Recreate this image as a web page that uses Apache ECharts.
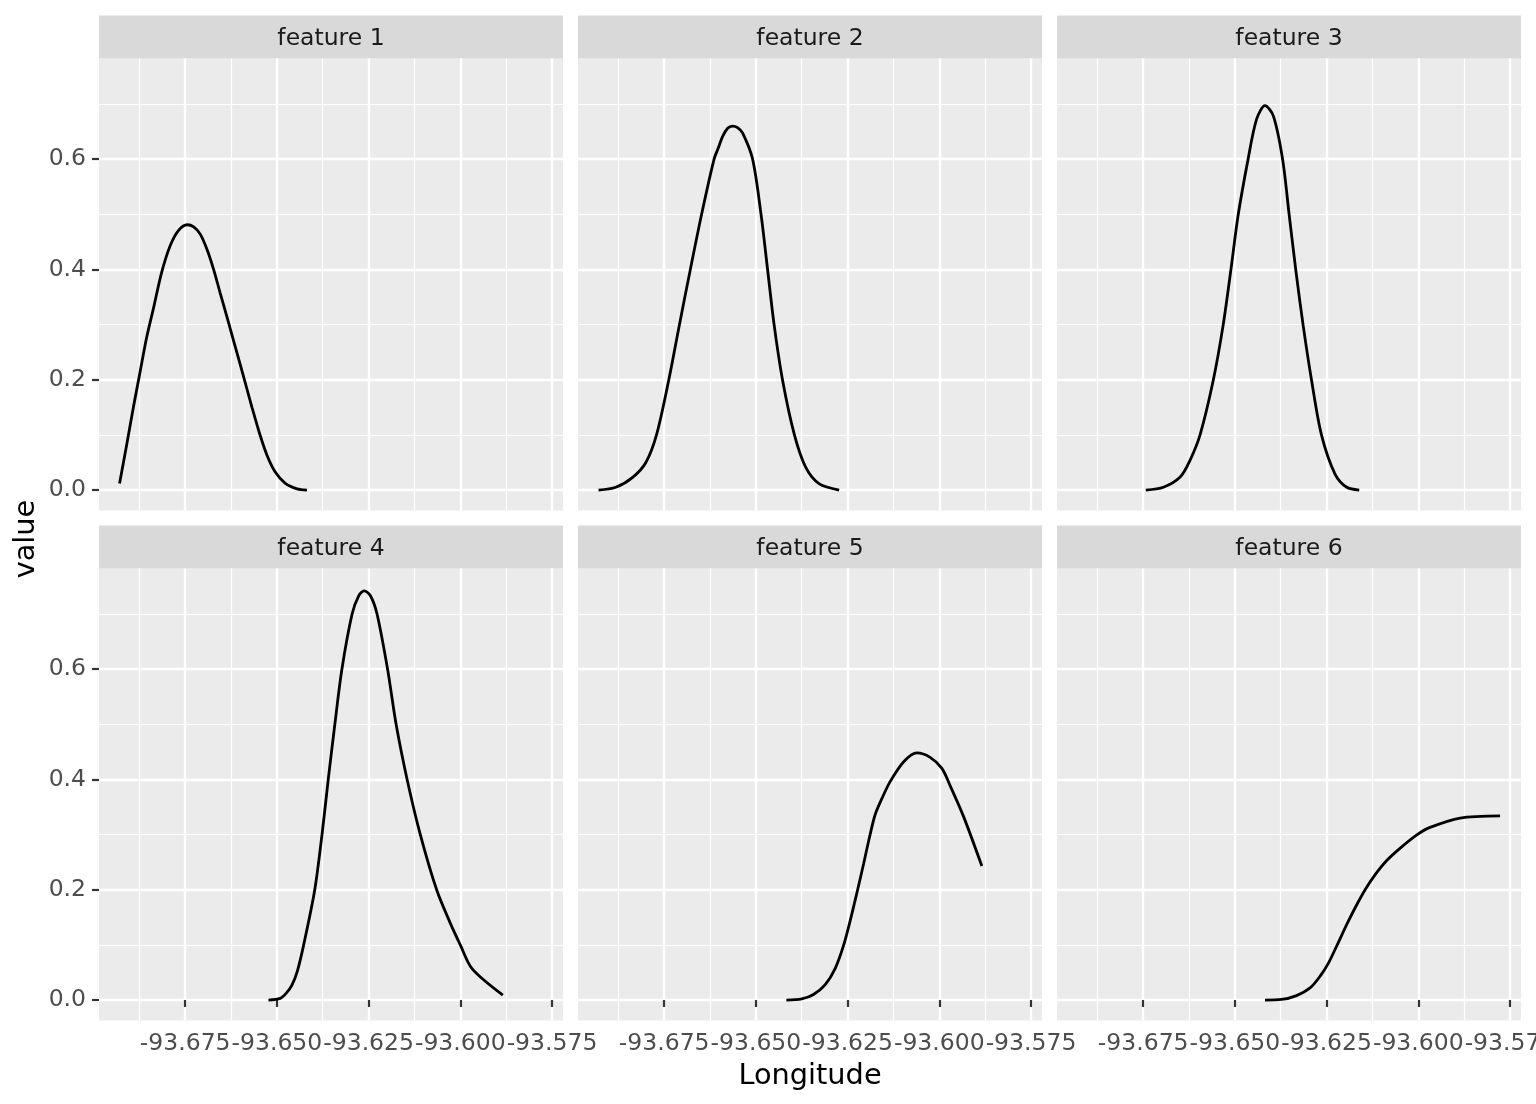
<!DOCTYPE html>
<html>
<head>
    <meta charset="UTF-8">
    <title>Longitude features</title>
    <script src="https://cdn.jsdelivr.net/npm/echarts@6/dist/echarts.min.js"></script>
    <style>
        html, body { margin: 0; padding: 0; background: #fff; }
        #chart { width: 1536px; height: 1104px; }
    </style>
</head>
<body>
    <div id="chart"></div>
    <script>
        // facet names
        const features = ['feature 1', 'feature 2', 'feature 3', 'feature 4', 'feature 5', 'feature 6'];

        // tick positions
        const xMajor = [-93.675, -93.65, -93.625, -93.6, -93.575];
        const xMinor = [-93.6875, -93.6625, -93.6375, -93.6125, -93.5875];
        const yMajor = [0, 0.2, 0.4, 0.6];
        const yMinor = [0.1, 0.3, 0.5, 0.7];

        // curves
        const f1Lon = [-93.6929, -93.6909, -93.6891, -93.6873, -93.6855, -93.6836, -93.6814, -93.6791, -93.6768, -93.6744, -93.6727, -93.6709, -93.6691, -93.6673, -93.6655, -93.6632, -93.6609, -93.6589, -93.6568, -93.6547, -93.6527, -93.6505, -93.6477, -93.6445, -93.6418];
        const f1Val = [0.012, 0.084, 0.151, 0.214, 0.277, 0.331, 0.395, 0.443, 0.471, 0.481, 0.477, 0.464, 0.437, 0.401, 0.358, 0.304, 0.249, 0.201, 0.150, 0.102, 0.063, 0.033, 0.012, 0.002, 0.000];

        const f2Lon = [-93.6929, -93.6882, -93.6836, -93.6800, -93.6771, -93.6738, -93.6709, -93.6679, -93.6648, -93.6614, -93.6602, -93.6591, -93.6577, -93.6564, -93.6550, -93.6536, -93.6509, -93.6486, -93.6468, -93.6450, -93.6427, -93.6395, -93.6364, -93.6327, -93.6273];
        const f2Val = [0.000, 0.005, 0.023, 0.050, 0.100, 0.198, 0.298, 0.399, 0.500, 0.600, 0.621, 0.641, 0.656, 0.660, 0.657, 0.647, 0.600, 0.500, 0.399, 0.298, 0.198, 0.100, 0.041, 0.011, 0.000];

        const f3Lon = [-93.6743, -93.6695, -93.6650, -93.6623, -93.6595, -93.6559, -93.6532, -93.6511, -93.6491, -93.6464, -93.6441, -93.6418, -93.6395, -93.6370, -93.6352, -93.6334, -93.6314, -93.6291, -93.6264, -93.6227, -93.6195, -93.6161];
        const f3Val = [0.000, 0.005, 0.023, 0.053, 0.100, 0.199, 0.299, 0.399, 0.499, 0.600, 0.672, 0.697, 0.678, 0.600, 0.499, 0.399, 0.299, 0.199, 0.100, 0.029, 0.005, 0.000];

        const f4Lon = [-93.6523, -93.6491, -93.6475, -93.6459, -93.6444, -93.6427, -93.6397, -93.6377, -93.6360, -93.6342, -93.6323, -93.6295, -93.6277, -93.6262, -93.6245, -93.6227, -93.6198, -93.6175, -93.6145, -93.6109, -93.6064, -93.6027, -93.6000, -93.5968, -93.5884];
        const f4Val = [0.000, 0.003, 0.012, 0.027, 0.053, 0.100, 0.199, 0.300, 0.400, 0.500, 0.599, 0.700, 0.733, 0.742, 0.733, 0.700, 0.599, 0.500, 0.400, 0.300, 0.199, 0.139, 0.100, 0.057, 0.009];

        const f5Lon = [-93.6417, -93.6375, -93.6343, -93.6311, -93.6284, -93.6261, -93.6241, -93.6223, -93.6206, -93.6190, -93.6175, -93.6156, -93.6134, -93.6097, -93.6061, -93.6025, -93.5993, -93.5970, -93.5934, -93.5884];
        const f5Val = [0.000, 0.002, 0.010, 0.028, 0.057, 0.099, 0.149, 0.199, 0.248, 0.296, 0.336, 0.366, 0.396, 0.432, 0.448, 0.440, 0.420, 0.388, 0.333, 0.243];

        const f6Lon = [-93.6418, -93.6373, -93.6332, -93.6295, -93.6268, -93.6245, -93.6221, -93.6195, -93.6170, -93.6145, -93.6118, -93.6086, -93.6050, -93.6005, -93.5968, -93.5886, -93.5777];
        const f6Val = [0.000, 0.001, 0.008, 0.022, 0.043, 0.067, 0.100, 0.137, 0.170, 0.200, 0.227, 0.253, 0.275, 0.299, 0.313, 0.330, 0.334];

        const lons = [f1Lon, f2Lon, f3Lon, f4Lon, f5Lon, f6Lon];
        const vals = [f1Val, f2Val, f3Val, f4Val, f5Val, f6Val];

        const FONT = 'DejaVu Sans';
        const X_MIN = -93.6985, X_MAX = -93.5720;
        const Y_MIN = -0.0373, Y_MAX = 0.7823;
        const lefts = [99, 578, 1057];
        const tops = [58.6, 568.6];
        const W = 464, H = 452, STRIP = 43;

        const grids = [], xAxes = [], yAxes = [], series = [], graphics = [];

        features.forEach((name, i) => {
            const col = i % 3, row = Math.floor(i / 3);
            grids.push({
                left: lefts[col], top: tops[row], width: W, height: H,
                outerBoundsMode: 'none', containLabel: false,
                show: true, backgroundColor: '#EBEBEB', borderWidth: 0
            });
            // major x
            xAxes.push({
                type: 'value', gridIndex: i, min: X_MIN, max: X_MAX,
                axisLine: { show: false },
                axisTick: { show: row === 1, length: 7, customValues: xMajor, lineStyle: { color: '#333333', width: 2.2 } },
                axisLabel: { show: row === 1, customValues: xMajor, formatter: v => v.toFixed(3),
                    hideOverlap: false, showMinLabel: true, showMaxLabel: true,
                    color: '#4D4D4D', fontSize: 23.5, fontFamily: FONT, margin: 11 },
                splitLine: { show: true, lineStyle: { color: '#FFFFFF', width: 2.4 } }
            });
            // minor x
            xAxes.push({
                type: 'value', gridIndex: i, min: X_MIN, max: X_MAX,
                axisLine: { show: false },
                axisTick: { show: false, customValues: xMinor },
                axisLabel: { show: false, customValues: xMinor },
                splitLine: { show: true, lineStyle: { color: '#FFFFFF', width: 1.2 } }
            });
            yAxes.push({
                type: 'value', gridIndex: i, min: Y_MIN, max: Y_MAX,
                axisLine: { show: false },
                axisTick: { show: col === 0, length: 7, customValues: yMajor, lineStyle: { color: '#333333', width: 2.2 } },
                axisLabel: { show: col === 0, customValues: yMajor, formatter: v => v.toFixed(1),
                    showMinLabel: true, showMaxLabel: true,
                    color: '#4D4D4D', fontSize: 23.5, fontFamily: FONT, margin: 13 },
                splitLine: { show: true, lineStyle: { color: '#FFFFFF', width: 2.4 } }
            });
            yAxes.push({
                type: 'value', gridIndex: i, min: Y_MIN, max: Y_MAX,
                axisLine: { show: false },
                axisTick: { show: false, customValues: yMinor },
                axisLabel: { show: false, customValues: yMinor },
                splitLine: { show: true, lineStyle: { color: '#FFFFFF', width: 1.2 } }
            });
            series.push({
                type: 'line', name: name,
                xAxisIndex: 2 * i, yAxisIndex: 2 * i,
                data: lons[i].map((x, k) => [x, vals[i][k]]),
                showSymbol: false, smooth: 0.3,
                lineStyle: { color: '#000000', width: 2.8 },
                z: 5
            });
            // facet strip
            graphics.push({
                type: 'rect',
                shape: { x: lefts[col], y: tops[row] - STRIP, width: W, height: STRIP },
                style: { fill: '#D9D9D9' }
            });
            graphics.push({
                type: 'text',
                x: lefts[col] + W / 2, y: tops[row] - STRIP / 2 + 1.5,
                style: { text: name, fill: '#1A1A1A', font: '23.5px "DejaVu Sans"', align: 'center', verticalAlign: 'middle' }
            });
        });

        graphics.push({
            type: 'text', x: 810, y: 1077,
            style: { text: 'Longitude', fill: '#000000', font: '28.8px "DejaVu Sans"', align: 'center', verticalAlign: 'middle' }
        });
        graphics.push({
            type: 'text', x: 27, y: 539, rotation: Math.PI / 2,
            style: { text: 'value', fill: '#000000', font: '28.8px "DejaVu Sans"', align: 'center', verticalAlign: 'middle' }
        });

        const chart = echarts.init(document.getElementById('chart'));
        chart.setOption({
            animation: false,
            backgroundColor: '#FFFFFF',
            grid: grids,
            xAxis: xAxes,
            yAxis: yAxes,
            series: series,
            graphic: graphics
        });
    </script>
</body>
</html>
